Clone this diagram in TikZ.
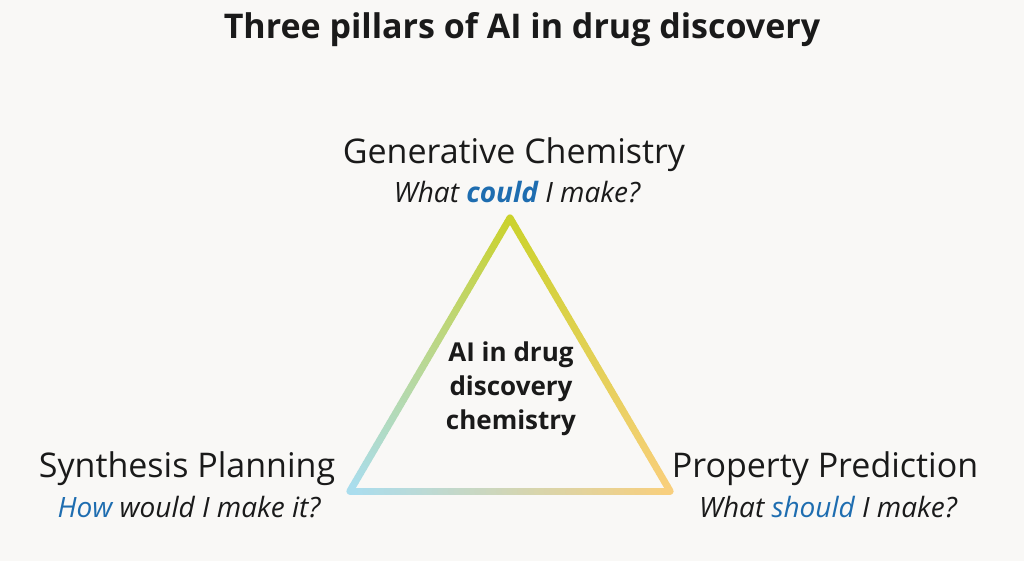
\documentclass[tikz,border=0pt]{standalone}
\usepackage{fontspec}
\setmainfont{Open Sans}
\usetikzlibrary{calc}
\definecolor{bg}{HTML}{F9F8F6}
\definecolor{ctop}{HTML}{CBD22C}
\definecolor{cleft}{HTML}{A9DDF0}
\definecolor{cright}{HTML}{F9CF7C}
\definecolor{cblue}{HTML}{1E6DB0}
\definecolor{txt}{HTML}{1A1A1A}
\tikzset{lab/.style={text=txt,font=\fontsize{34}{38}\selectfont,align=center},
sub/.style={text=txt,font=\fontsize{28}{32}\selectfont\itshape},
edge/.style={line width=7pt,line cap=round}}
\begin{document}
\begin{tikzpicture}[x=1pt,y=-1pt]
\fill[bg] (0,0) rectangle (1024,561);
\useasboundingbox (0,0) rectangle (1024,561);
\node[text=txt,font=\fontsize{34}{38}\selectfont\bfseries] (title) at (522,30) {Three pillars of AI in drug discovery};
\coordinate (T) at (510,218);
\coordinate (L) at (350,491);
\coordinate (R) at (670,491);
\foreach \i in {0,...,59}{
  \pgfmathsetmacro\a{\i/60}\pgfmathsetmacro\b{(\i+1)/60}
  \pgfmathsetmacro\p{100-100*\a}
  \colorlet{cc}{ctop!\p!cleft}
  \draw[edge,cc] ($(T)!\a!(L)$) -- ($(T)!\b!(L)$);
  \colorlet{cc}{ctop!\p!cright}
  \draw[edge,cc] ($(T)!\a!(R)$) -- ($(T)!\b!(R)$);
  \colorlet{cc}{cleft!\p!cright}
  \draw[edge,cc] ($(L)!\a!(R)$) -- ($(L)!\b!(R)$);
}
\node[text=txt,font=\fontsize{26}{34}\selectfont\bfseries,align=center] (center) at (511,389) {AI in drug\\discovery\\chemistry};
\node[lab] (gen) at (514,155) {Generative Chemistry};
\node[sub] (gens) at (517,192) {What \textcolor{cblue}{\bfseries could} I make?};
\node[lab] (syn) at (187,469) {Synthesis Planning};
\node[sub] (syns) at (189,507) {\textcolor{cblue}{How} would I make it?};
\node[lab] (pro) at (825,469) {Property Prediction};
\node[sub] (pros) at (828,507) {What \textcolor{cblue}{should} I make?};
\end{tikzpicture}
\end{document}
